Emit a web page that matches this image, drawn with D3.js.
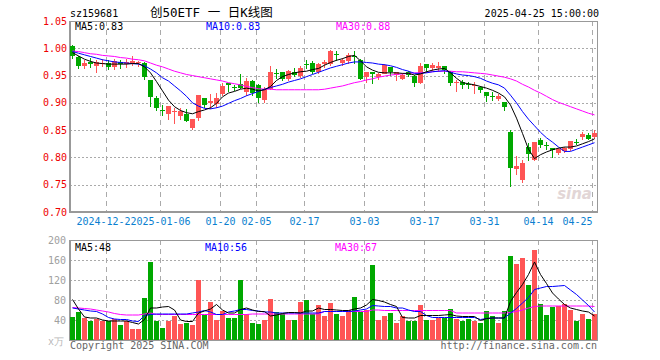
<!DOCTYPE html>
<html>
<head>
<meta charset="utf-8">
<title>创50ETF 日K线图</title>
<script src="https://cdn.jsdelivr.net/npm/d3@7"></script>
<style>
  body { margin: 0; background: #fff; }
  text { font-family: "DejaVu Sans Mono", "Liberation Mono", monospace; font-size: 10px; }
</style>
</head>
<body>
<svg width="660" height="360"></svg>
<script>
// trading days shown on the chart
var dates = ["2024-12-13","2024-12-16","2024-12-17","2024-12-18","2024-12-19","2024-12-20","2024-12-23","2024-12-24","2024-12-25","2024-12-26","2024-12-27","2024-12-30","2024-12-31",
  "2025-01-02","2025-01-03","2025-01-06","2025-01-07","2025-01-08","2025-01-09","2025-01-10","2025-01-13","2025-01-14","2025-01-15","2025-01-16","2025-01-17","2025-01-20","2025-01-21","2025-01-22","2025-01-23","2025-01-24","2025-01-27",
  "2025-02-05","2025-02-06","2025-02-07","2025-02-10","2025-02-11","2025-02-12","2025-02-13","2025-02-14","2025-02-17","2025-02-18","2025-02-19","2025-02-20","2025-02-21","2025-02-24","2025-02-25","2025-02-26","2025-02-27","2025-02-28",
  "2025-03-03","2025-03-04","2025-03-05","2025-03-06","2025-03-07","2025-03-10","2025-03-11","2025-03-12","2025-03-13","2025-03-14","2025-03-17","2025-03-18","2025-03-19","2025-03-20","2025-03-21","2025-03-24","2025-03-25","2025-03-26","2025-03-27","2025-03-28","2025-03-31",
  "2025-04-01","2025-04-02","2025-04-03","2025-04-07","2025-04-08","2025-04-09","2025-04-10","2025-04-11","2025-04-14","2025-04-15","2025-04-16","2025-04-17","2025-04-18","2025-04-21","2025-04-22","2025-04-23","2025-04-24","2025-04-25"];

var open  = [1.004,0.984,0.968,0.975,0.967,0.971,0.973,0.965,0.974,0.971,0.974,0.972,0.973,0.941,0.909,0.886,0.880,0.884,0.876,0.880,0.854,0.873,0.909,0.901,0.898,0.916,0.936,0.929,0.934,0.919,
  0.940,0.933,0.904,0.925,0.955,0.956,0.944,0.956,0.950,0.972,0.973,0.957,0.970,0.971,0.990,0.973,0.977,0.985,0.979,0.947,0.956,0.947,0.954,0.965,0.952,0.943,0.957,0.949,0.937,0.971,
  0.964,0.964,0.967,0.956,0.937,0.939,0.934,0.931,0.929,0.920,0.912,0.906,0.901,0.846,0.780,0.757,0.820,0.796,0.832,0.823,0.818,0.808,0.812,0.816,0.829,0.838,0.842,0.837];
var high  = [1.006,0.985,0.979,0.982,0.979,0.981,0.978,0.980,0.978,0.980,0.986,0.977,0.975,0.941,0.913,0.896,0.895,0.890,0.890,0.888,0.871,0.915,0.909,0.916,0.918,0.937,0.936,0.932,0.953,0.945,
  0.942,0.935,0.929,0.968,0.962,0.956,0.960,0.963,0.968,0.979,0.976,0.973,0.978,0.997,0.995,0.982,0.991,0.995,0.981,0.957,0.956,0.954,0.971,0.965,0.957,0.954,0.958,0.951,0.973,0.971,
  0.973,0.974,0.967,0.959,0.941,0.942,0.938,0.938,0.931,0.920,0.920,0.916,0.901,0.851,0.802,0.796,0.827,0.829,0.835,0.829,0.818,0.817,0.820,0.831,0.833,0.847,0.844,0.850];
var low   = [0.982,0.963,0.963,0.965,0.956,0.967,0.962,0.962,0.963,0.965,0.970,0.967,0.943,0.895,0.887,0.878,0.871,0.863,0.870,0.866,0.852,0.868,0.893,0.890,0.893,0.915,0.921,0.923,0.927,0.915,
  0.915,0.901,0.901,0.925,0.946,0.942,0.942,0.949,0.948,0.964,0.954,0.954,0.965,0.969,0.979,0.970,0.973,0.973,0.943,0.939,0.937,0.943,0.954,0.951,0.941,0.943,0.949,0.931,0.936,0.957,
  0.961,0.959,0.954,0.932,0.921,0.928,0.927,0.918,0.920,0.903,0.906,0.905,0.886,0.747,0.769,0.755,0.796,0.795,0.820,0.816,0.800,0.806,0.810,0.814,0.824,0.833,0.833,0.835];
var close = [0.986,0.968,0.973,0.972,0.974,0.973,0.966,0.976,0.971,0.975,0.977,0.974,0.948,0.910,0.890,0.885,0.894,0.885,0.885,0.868,0.871,0.915,0.896,0.904,0.909,0.930,0.932,0.928,0.927,0.940,
  0.918,0.909,0.925,0.957,0.954,0.944,0.958,0.951,0.964,0.971,0.957,0.971,0.974,0.995,0.989,0.978,0.988,0.984,0.945,0.957,0.952,0.952,0.970,0.956,0.957,0.951,0.951,0.937,0.968,0.963,
  0.970,0.968,0.959,0.935,0.938,0.933,0.933,0.932,0.923,0.912,0.911,0.912,0.892,0.780,0.785,0.789,0.807,0.829,0.823,0.822,0.815,0.815,0.818,0.830,0.828,0.843,0.835,0.844];

var ma5  = [0.992,0.986,0.980,0.976,0.973,0.972,0.971,0.971,0.971,0.971,0.972,0.972,0.966,0.955,0.939,0.922,0.905,0.893,0.886,0.882,0.880,0.884,0.887,0.891,0.899,0.911,0.918,0.921,0.925,0.927,
  0.925,0.922,0.924,0.930,0.941,0.948,0.952,0.955,0.957,0.958,0.961,0.963,0.969,0.974,0.978,0.981,0.985,0.987,0.977,0.966,0.960,0.956,0.955,0.955,0.955,0.954,0.954,0.951,0.953,0.957,
  0.960,0.962,0.963,0.955,0.945,0.937,0.935,0.933,0.930,0.927,0.923,0.918,0.911,0.896,0.872,0.844,0.815,0.798,0.805,0.810,0.814,0.817,0.819,0.819,0.821,0.825,0.829,0.834];
var ma10 = [0.994,0.991,0.988,0.985,0.982,0.979,0.977,0.975,0.974,0.973,0.972,0.971,0.968,0.962,0.955,0.946,0.940,0.931,0.922,0.912,0.900,0.894,0.890,0.889,0.891,0.894,0.899,0.904,0.908,0.913,
  0.917,0.921,0.925,0.928,0.931,0.934,0.938,0.941,0.944,0.948,0.952,0.956,0.960,0.964,0.967,0.970,0.973,0.975,0.975,0.974,0.973,0.971,0.970,0.968,0.965,0.961,0.958,0.954,0.954,0.955,
  0.957,0.958,0.959,0.956,0.953,0.951,0.950,0.948,0.945,0.940,0.936,0.933,0.927,0.914,0.900,0.884,0.870,0.858,0.846,0.836,0.828,0.819,0.811,0.811,0.815,0.819,0.823,0.827];
var ma30 = [0.995,0.994,0.992,0.990,0.989,0.987,0.986,0.985,0.983,0.982,0.980,0.979,0.977,0.973,0.969,0.966,0.962,0.958,0.955,0.952,0.950,0.948,0.946,0.944,0.942,0.940,0.937,0.935,0.933,0.930,
  0.928,0.926,0.925,0.925,0.924,0.924,0.924,0.924,0.924,0.924,0.924,0.924,0.925,0.927,0.929,0.931,0.934,0.937,0.939,0.942,0.944,0.947,0.949,0.951,0.952,0.953,0.954,0.955,0.955,0.956,
  0.957,0.958,0.958,0.958,0.957,0.957,0.956,0.955,0.954,0.953,0.951,0.949,0.947,0.944,0.940,0.934,0.929,0.923,0.918,0.912,0.906,0.901,0.897,0.893,0.889,0.885,0.881,0.878];

// volume in 万
var volume = [47,57,45,37,43,37,39,43,31,39,23,23,85,157,39,25,39,49,33,35,31,121,51,77,41,59,45,45,121,52,
  35,33,41,83,56,52,41,41,77,80,52,70,49,75,52,49,61,87,57,61,151,41,49,55,35,49,39,39,71,41,
  41,45,45,63,43,37,43,39,35,59,49,35,59,169,153,165,111,181,73,51,67,69,73,60,39,53,43,52];
var volMa5  = [81,62,46,44,44,40,38,38,38,38,35,32,41,64,64,66,67,60,40,37,37,54,58,62,71,60,54,54,61,64,
  60,57,57,48,50,53,55,55,54,58,58,64,61,61,60,59,59,62,64,70,81,79,76,71,67,45,44,44,49,49,
  49,49,50,51,48,47,47,47,39,43,44,44,44,77,95,111,131,156,131,113,94,82,71,64,61,58,56,48];
var volMa10 = [64,62,60,58,57,52,45,42,41,41,38,37,49,51,52,52,52,52,52,52,54,56,59,56,51,51,56,58,61,61,
  59,58,56,56,54,54,54,54,54,54,54,54,57,57,57,57,57,58,60,62,69,68,67,67,64,64,60,57,57,49,
  45,45,45,45,45,45,45,45,41,43,44,44,44,54,63,74,85,101,104,107,107,108,109,100,91,80,69,56];
var volMa30 = [65,64,63,62,60,58,56,53,51,50,50,50,52,54,51,51,51,51,51,51,51,51,51,51,51,51,51,51,51,51,
  52,52,52,52,52,52,52,52,52,52,52,52,57,57,57,57,57,57,57,57,60,60,59,59,59,59,59,59,59,59,
  59,59,59,59,54,54,54,54,54,54,54,54,54,55,57,60,64,67,68,68,68,68,68,68,68,68,68,67];

var priceTicks = [1.05,1.00,0.95,0.90,0.85,0.80,0.75,0.70];
var volTicks = [200,160,120,80,40];
var dateTicks = ["2024-12-23","2025-01-06","2025-01-20","2025-02-05","2025-02-17","2025-03-03","2025-03-17","2025-03-31","2025-04-14","2025-04-25"];
var dateLabels = ["2024-12-23","2025-01-06","01-20","02-05","02-17","03-03","03-17","03-31","04-14","04-25"];

var UP = "#ff5555", DOWN = "#00a800", GRID = "#aaaaaa", FRAME = "#999999";

var svg = d3.select("svg");
var x = d3.scaleBand().domain(dates).range([70, 598]);
var y = d3.scaleLinear().domain([0.70, 1.05]).range([212, 21]);
var yv = d3.scaleLinear().domain([0, 200]).range([340, 240]);

// header
svg.append("text").attr("x", 70).attr("y", 16.5).text("sz159681");
svg.append("text").attr("x", 150).attr("y", 17).style("font-size", "12.5px")
   .style("font-family", "'DejaVu Sans Mono','Noto Sans CJK SC',monospace")
   .text("创50ETF 一 日K线图");
svg.append("text").attr("x", 599).attr("y", 16.5).attr("text-anchor", "end").text("2025-04-25 15:00:00");

// grid
var grid = svg.append("g").attr("shape-rendering", "crispEdges");
grid.selectAll("line.hp").data(priceTicks.slice(1, -1)).enter().append("line")
  .attr("x1", 70).attr("x2", 598)
  .attr("y1", function(d) { return Math.round(y(d)) + 0.5; })
  .attr("y2", function(d) { return Math.round(y(d)) + 0.5; })
  .attr("stroke", GRID).attr("stroke-dasharray", "2,2");
grid.selectAll("line.hv").data(volTicks.slice(1)).enter().append("line")
  .attr("x1", 70).attr("x2", 598)
  .attr("y1", function(d) { return Math.round(yv(d)) + 0.5; })
  .attr("y2", function(d) { return Math.round(yv(d)) + 0.5; })
  .attr("stroke", GRID).attr("stroke-dasharray", "2,2");
[[21, 212], [240, 340]].forEach(function(r) {
  grid.selectAll(null).data(dateTicks).enter().append("line")
    .attr("x1", function(d) { return x(d) + 0.5; })
    .attr("x2", function(d) { return x(d) + 0.5; })
    .attr("y1", r[0]).attr("y2", r[1])
    .attr("stroke", GRID).attr("stroke-dasharray", "5,4");
});

// frames
[[21, 212], [240, 340]].forEach(function(r) {
  var f = svg.append("g").attr("shape-rendering", "crispEdges");
  f.append("line").attr("x1", 70).attr("x2", 598).attr("y1", r[0] + 0.5).attr("y2", r[0] + 0.5).attr("stroke", FRAME);
  f.append("line").attr("x1", 597.5).attr("x2", 597.5).attr("y1", r[0]).attr("y2", r[1]).attr("stroke", FRAME);
  f.append("line").attr("x1", 70).attr("x2", 70).attr("y1", r[0]).attr("y2", r[1] + 1).attr("stroke", FRAME).attr("stroke-width", 2);
  f.append("line").attr("x1", 69).attr("x2", 598).attr("y1", r[1]).attr("y2", r[1]).attr("stroke", FRAME).attr("stroke-width", 2);
});

// watermark
svg.append("text").attr("x", 592).attr("y", 199).attr("text-anchor", "end")
  .style("font-family", "'DejaVu Sans',sans-serif").style("font-size", "15px")
  .style("font-weight", "bold").style("font-style", "italic")
  .attr("fill", "#e2d6d6").text("sina");

// candles
var idx = d3.range(dates.length);
var cg = svg.append("g").attr("shape-rendering", "crispEdges");
cg.selectAll("line.wick").data(idx).enter().append("line")
  .attr("x1", function(i) { return x(dates[i]) + 2.5; })
  .attr("x2", function(i) { return x(dates[i]) + 2.5; })
  .attr("y1", function(i) { return Math.round(y(high[i])); })
  .attr("y2", function(i) { return Math.round(y(low[i])) + 1; })
  .attr("stroke", function(i) { return close[i] >= open[i] ? UP : DOWN; });
cg.selectAll("rect.body").data(idx).enter().append("rect")
  .attr("x", function(i) { return x(dates[i]); })
  .attr("width", 5)
  .attr("y", function(i) { return Math.round(y(Math.max(open[i], close[i]))); })
  .attr("height", function(i) { return Math.max(1, Math.round(Math.abs(y(open[i]) - y(close[i])))); })
  .attr("fill", function(i) { return close[i] >= open[i] ? UP : DOWN; });

// volume bars
cg.selectAll("rect.vol").data(idx).enter().append("rect")
  .attr("x", function(i) { return x(dates[i]); })
  .attr("width", 5)
  .attr("y", function(i) { return Math.round(yv(volume[i])); })
  .attr("height", function(i) { return 340 - Math.round(yv(volume[i])); })
  .attr("fill", function(i) { return close[i] >= open[i] ? UP : DOWN; });

// moving averages
function maLine(vals, scale, color) {
  var line = d3.line()
    .x(function(d, i) { return x(dates[i]) + 2.5; })
    .y(function(d) { return scale(d); });
  svg.append("path").datum(vals).attr("d", line)
    .attr("fill", "none").attr("stroke", color).attr("stroke-width", 1);
}
maLine(ma30, y, "#ff00ff");
maLine(ma10, y, "#0000ff");
maLine(ma5, y, "#000000");
maLine(volMa30, yv, "#ff00ff");
maLine(volMa10, yv, "#0000ff");
maLine(volMa5, yv, "#000000");

// MA labels
svg.append("text").attr("x", 75).attr("y", 29.5).attr("fill", "#000").text("MA5:" + d3.format(".2f")(ma5[ma5.length - 1]));
svg.append("text").attr("x", 206).attr("y", 29.5).attr("fill", "#0000ff").text("MA10:" + d3.format(".2f")(ma10[ma10.length - 1]));
svg.append("text").attr("x", 336).attr("y", 29.5).attr("fill", "#ff00ff").text("MA30:" + d3.format(".2f")(ma30[ma30.length - 1]));
svg.append("text").attr("x", 75).attr("y", 251).attr("fill", "#000").text("MA5:" + volMa5[volMa5.length - 1]);
svg.append("text").attr("x", 205).attr("y", 251).attr("fill", "#0000ff").text("MA10:" + volMa10[volMa10.length - 1]);
svg.append("text").attr("x", 335).attr("y", 251).attr("fill", "#ff00ff").text("MA30:" + volMa30[volMa30.length - 1]);

// y labels
svg.selectAll("text.py").data(priceTicks).enter().append("text")
  .attr("x", 67).attr("y", function(d) { return y(d) + 3.5; })
  .attr("text-anchor", "end").attr("fill", "#ee0000")
  .text(function(d) { return d3.format(".2f")(d); });
svg.selectAll("text.vy").data(volTicks).enter().append("text")
  .attr("x", 66).attr("y", function(d) { return yv(d) + 3.5; })
  .attr("text-anchor", "end").attr("fill", "#a0a0a0")
  .text(function(d) { return d; });
svg.append("text").attr("x", 64).attr("y", 345).attr("text-anchor", "end").attr("fill", "#b8b8b8").text("x万");

// x labels, each on a white patch so a later one covers an earlier one
dateTicks.forEach(function(d, k) {
  var last = k === dateTicks.length - 1;
  var cx = x(d) + 0.5;
  var g = svg.append("g");
  var t = g.append("text").attr("x", cx).attr("y", 225)
    .attr("text-anchor", last ? "end" : "middle").attr("fill", "#0b7fd0")
    .text(dateLabels[k]);
  var b = t.node().getBBox();
  g.insert("rect", "text").attr("x", b.x).attr("y", b.y).attr("width", b.width).attr("height", b.height).attr("fill", "#fff");
});

// footer
svg.append("text").attr("x", 70).attr("y", 349).attr("fill", "#666").text("Copyright 2025 SINA.COM");
svg.append("text").attr("x", 597).attr("y", 349).attr("text-anchor", "end").attr("fill", "#666").text("http://finance.sina.com.cn");
</script>
</body>
</html>
